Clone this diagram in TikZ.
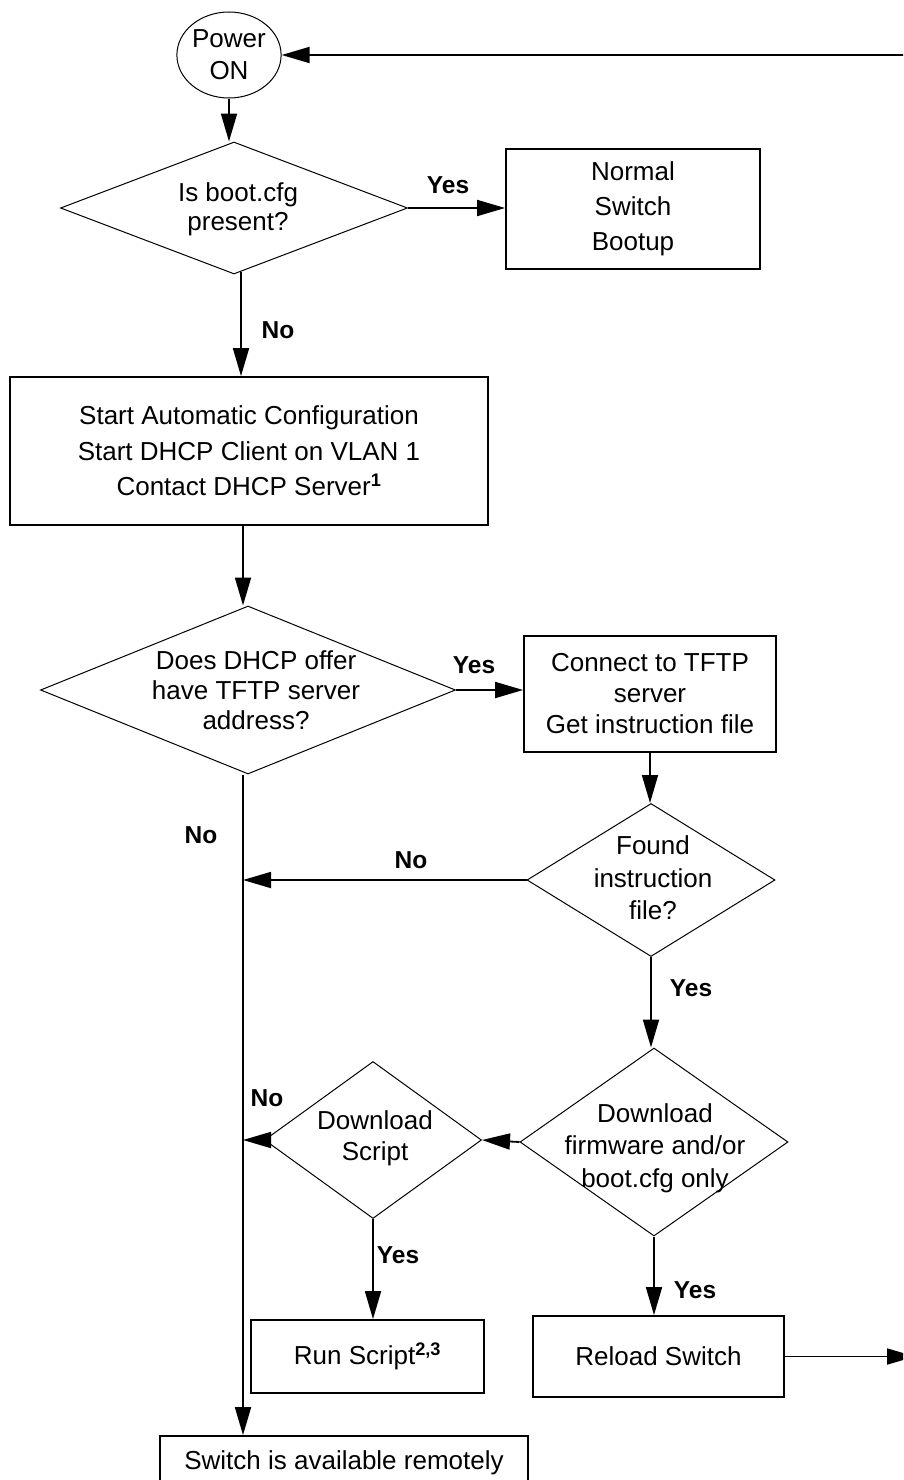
\documentclass[tikz,border=0pt]{standalone}
\usepackage{fontspec}
\setmainfont{Liberation Sans}
\usetikzlibrary{arrows.meta,shapes.geometric,calc}
\begin{document}
\begin{tikzpicture}[x=1pt,y=-1pt,
  font=\fontsize{26}{32}\selectfont,
  box/.style={draw, line width=1.8pt, inner sep=0pt, align=center},
  dia/.style={draw, diamond, line width=1pt, inner sep=0pt},
  txt/.style={align=center, inner sep=0pt},
  lbl/.style={font=\fontsize{24.5}{28}\selectfont\bfseries, inner sep=0pt},
  arr/.style={line width=1.8pt, -{Triangle[length=28pt,width=16pt]}}]
\useasboundingbox (0,0) rectangle (903,1480);
\clip (0,0) rectangle (903,1480);

% main column x
\coordinate (mx) at (243,0);
\coordinate (tr) at (915,55);
\coordinate (rr) at (915,1356.5);

% nodes
\node[draw, ellipse, line width=1pt, minimum width=100pt, minimum height=86pt, inner sep=0pt, align=center] (c0) at (229,55) {Power\\ON};

\node[dia, minimum width=347pt, minimum height=132pt] (d1) at (234,208) {};
\node[txt, font=\fontsize{26}{29}\selectfont] at (238,209) {Is boot.cfg\\present?};

\node[box, minimum width=254pt, minimum height=120pt, font=\fontsize{26}{35}\selectfont] (n1) at (633,209) {Normal\\Switch\\Bootup};

\node[box, minimum width=478pt, minimum height=148pt, font=\fontsize{26}{35.5}\selectfont] (b1) at (249,451) {Start Automatic Configuration\\Start DHCP Client on VLAN 1\\Contact DHCP Server\textsuperscript{\bfseries 1}};

\node[dia, minimum width=415pt, minimum height=168pt] (d2) at (248,690) {};
\node[txt, font=\fontsize{26}{30}\selectfont] at (256,690) {Does DHCP offer\\have TFTP server\\address?};

\node[box, minimum width=252pt, minimum height=116pt, font=\fontsize{26}{31}\selectfont] (t1) at (650,694) {Connect to TFTP\\server\\Get instruction file};

\node[dia, minimum width=248pt, minimum height=153pt] (d3) at (651,880) {};
\node[txt, font=\fontsize{26}{32.5}\selectfont] at (653,878) {Found\\instruction\\file?};

\node[dia, minimum width=268pt, minimum height=188pt] (d4) at (654,1142) {};
\node[txt, font=\fontsize{26}{32.5}\selectfont] at (655,1148) {Download\\firmware and/or\\boot.cfg only};

\node[dia, minimum width=217pt, minimum height=157pt] (d5) at (373,1140) {};
\node[txt, font=\fontsize{26}{31}\selectfont] at (375,1138) {Download\\Script};

\node[box, minimum width=233pt, minimum height=73pt] (rs) at (367.5,1356.5) {Run Script\textsuperscript{\bfseries 2,3}};

\node[box, minimum width=251pt, minimum height=81pt] (rl) at (658.5,1356.5) {Reload Switch};

\node[box, minimum width=368pt, minimum height=60pt] (sw) at (344,1466) {\raisebox{11pt}{Switch is available remotely}};

% connectors
\coordinate (d1b) at ([xshift=7pt,yshift=3pt]d1.south);
\draw[arr] (tr) -- (c0.east);
\draw[arr] (c0.south) -- (c0.south |- d1.north);
\draw[arr] (d1.east) -- (d1.east -| n1.west);
\draw[arr] (d1b) -- (d1b |- b1.north);
\draw[arr] (mx |- b1.south) -- (mx |- d2.north);
\draw[arr] (d2.east) -- (d2.east -| t1.west);
\draw[arr] (t1.south) -- (t1.south |- d3.north);
\draw[arr] (d3.west) -- (mx |- d3.west);
\draw[arr] (mx |- d2.south) -- (mx |- sw.north);
\draw[arr] (d3.south) -- (d3.south |- d4.north);
\draw[arr] (d4.west) -- (d5.east);
\draw[arr] (d5.west) -- (mx |- d5.west);
\draw[arr] (d5.south) -- (d5.south |- rs.north);
\draw[arr] (d4.south) -- (d4.south |- rl.north);
\draw[arr] (rl.east) -- (rr);

% labels
\node[lbl] at (448,185) {Yes};
\node[lbl] at (278,330) {No};
\node[lbl] at (474,665) {Yes};
\node[lbl] at (201,835) {No};
\node[lbl] at (411,860) {No};
\node[lbl] at (691,988) {Yes};
\node[lbl] at (267,1098) {No};
\node[lbl] at (398,1255) {Yes};
\node[lbl] at (695,1290) {Yes};
\end{tikzpicture}
\end{document}
